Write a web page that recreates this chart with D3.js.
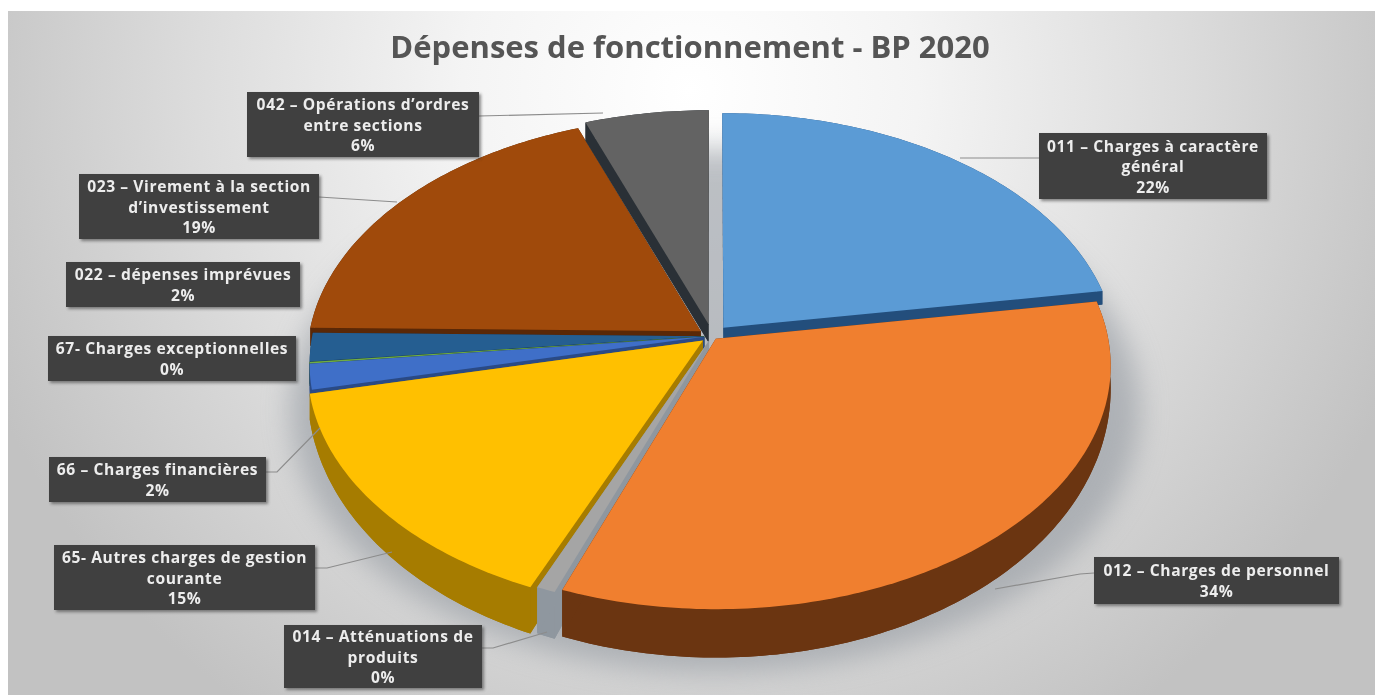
<!DOCTYPE html>
<html lang="fr">
<head>
<meta charset="utf-8">
<script src="https://cdn.jsdelivr.net/npm/d3@7"></script>
<style>
html,body{margin:0;padding:0;background:#fff;overflow:hidden}
svg{display:block}
text{font-family:"Open Sans",sans-serif}
</style>
</head>
<body>
<svg id="chart" width="1375" height="695"></svg>
<script>
// ---- data ----
const chartTitle = "Dépenses de fonctionnement - BP 2020";
const categories = [
  "011 – Charges à caractère général",
  "012 – Charges de personnel",
  "014 – Atténuations de produits",
  "65- Autres charges de gestion courante",
  "66 – Charges financières",
  "67- Charges exceptionnelles",
  "022 – dépenses imprévues",
  "023 – Virement à la section d’investissement",
  "042 – Opérations d’ordres entre sections"
];
const shareValues = [22.6, 33.4, 0.7, 15.2, 1.7, 0.1, 1.9, 19.2, 5.7];
const percentLabels = ["22%", "34%", "0%", "15%", "2%", "0%", "2%", "19%", "6%"];
const labelLines = [
  ["011 – Charges à caractère", "général"],
  ["012 – Charges de personnel"],
  ["014 – Atténuations de", "produits"],
  ["65- Autres charges de gestion", "courante"],
  ["66 – Charges financières"],
  ["67- Charges exceptionnelles"],
  ["022 – dépenses imprévues"],
  ["023 – Virement à la section", "d’investissement"],
  ["042 – Opérations  d’ordres", "entre sections"]
];

// ---- styles / layout ----
const topColors  = ["#5b9bd5","#f07f2f","#a5a5a5","#ffc000","#3f6fc8","#70ad47","#255e91","#a04a0b","#636363"];
const wallColors = ["#234e7c","#6b3511","#8f979f","#a67c00","#2a4a85","#3f6a28","#17395a","#5a2807","#2a3036"];
const explosion  = [0.045, 0.015, 0.02, 0.03, 0.02, 0.02, 0.02, 0.035, 0.05];
const wallFloor  = [12, 12, 12, 12, 12, 12, 12, 12, 18];
const drawOrder  = [7, 8, 0, 6, 5, 4, 3, 2, 1];
const labelBoxes = [
  [1039,133,228,66],[1094,557,245,47],[284,625,198,63],
  [54,545,261,65],[49,457,217,45],[48,336,248,45],
  [66,262,234,45],[79,174,240,65],[247,92,232,65]
];
const leaderLines = [
  [[1039,158],[960,158]],
  [[1094,573],[1080,574],[995,589]],
  [[482,648],[493,648],[547,632]],
  [[315,568],[327,568],[392,552]],
  [[266,472],[277,472],[320,428]],
  [],
  [],
  [[319,197],[397,202]],
  [[479,116],[603,113]]
];
const cx = 712, cy = 336, R = 392, S = 240, persp = 0.11;

const svg = d3.select("#chart");
const defs = svg.append("defs");
const bg = defs.append("radialGradient").attr("id","bg")
  .attr("gradientUnits","userSpaceOnUse")
  .attr("cx",690).attr("cy",90).attr("r",760);
[[0,"#ffffff"],[0.3,"#f4f4f4"],[0.65,"#dcdcdc"],[1,"#c2c2c2"]].forEach(s=>
  bg.append("stop").attr("offset",s[0]).attr("stop-color",s[1]));
const blur = (id,sd)=>defs.append("filter").attr("id",id)
  .attr("x","-20%").attr("y","-20%").attr("width","140%").attr("height","140%")
  .append("feGaussianBlur").attr("stdDeviation",sd);
blur("shadowBlur",14); blur("boxBlur",1.6); blur("soft",0.45);

svg.append("rect").attr("x",8).attr("y",11).attr("width",1367).attr("height",684).attr("fill","url(#bg)");

// soft shadow below the pie
svg.append("ellipse").attr("cx",715).attr("cy",410).attr("rx",425).attr("ry",262)
  .attr("fill","#8f959d").attr("opacity",0.58).attr("filter","url(#shadowBlur)");

// ---- geometry: d3.pie gives the angles, a perspective projection the screen points ----
const arcsData = d3.pie().sort(null).value(d=>d)(shareValues);
const line = d3.line();
function project(X, Y, d, lower) {
  const e = explosion[d.index], mid = (d.startAngle + d.endAngle) / 2;
  const PX = X + e * Math.sin(mid), PY = Y - e * Math.cos(mid);
  const k = 1 / (1 - persp * PY);
  const depth = lower ? Math.max(wallFloor[d.index], 19 + 29 * PY) : 0;
  return [cx + PX * R * k, cy + PY * S * k + depth];
}
function rimPoints(d, lower) {
  const n = Math.max(2, Math.ceil((d.endAngle - d.startAngle) * 60));
  return d3.range(n + 1).map(i => {
    const a = d.startAngle + (d.endAngle - d.startAngle) * i / n;
    return project(Math.sin(a), -Math.cos(a), d, lower);
  });
}
function facePath(d, lower) {
  return line([project(0,0,d,lower), ...rimPoints(d,lower)]) + "Z";
}
function cutPath(d, angle) {
  const X = Math.sin(angle), Y = -Math.cos(angle);
  return line([project(0,0,d,false), project(X,Y,d,false), project(X,Y,d,true), project(0,0,d,true)]) + "Z";
}
function outerPath(d) {
  return line([...rimPoints(d,false), ...rimPoints(d,true).reverse()]) + "Z";
}

const slices = svg.append("g").selectAll("g")
  .data(drawOrder.map(i => arcsData[i]))
  .join("g");
slices.append("path").attr("d", d => facePath(d,true)).attr("fill", d => wallColors[d.index]);
slices.append("path").attr("d", d => outerPath(d)).attr("fill", d => wallColors[d.index]);
slices.append("path").attr("d", d => cutPath(d,d.startAngle)).attr("fill", d => wallColors[d.index]);
slices.append("path").attr("d", d => cutPath(d,d.endAngle)).attr("fill", d => wallColors[d.index]);
slices.append("path").attr("d", d => facePath(d,false)).attr("fill", d => topColors[d.index]);

// ---- leader lines ----
svg.append("g").selectAll("path").data(leaderLines.filter(l=>l.length)).join("path")
  .attr("d", d => line(d)).attr("fill","none").attr("stroke","#8c8c8c").attr("stroke-width",1.2);

// ---- data labels ----
const labels = svg.append("g").selectAll("g").data(categories).join("g");
labels.append("rect")
  .attr("x",(d,i)=>labelBoxes[i][0]+2).attr("y",(d,i)=>labelBoxes[i][1]+2)
  .attr("width",(d,i)=>labelBoxes[i][2]).attr("height",(d,i)=>labelBoxes[i][3])
  .attr("fill","#333").attr("opacity",0.55).attr("filter","url(#boxBlur)");
labels.append("rect")
  .attr("x",(d,i)=>labelBoxes[i][0]).attr("y",(d,i)=>labelBoxes[i][1])
  .attr("width",(d,i)=>labelBoxes[i][2]).attr("height",(d,i)=>labelBoxes[i][3])
  .attr("fill","#404040");
labels.each(function(d,i){
  const b = labelBoxes[i];
  const rows = [...labelLines[i], percentLabels[i]];
  const top = b[1] + b[3]/2 - (rows.length*20.6)/2;
  d3.select(this).selectAll("text").data(rows).join("text")
    .attr("x", b[0]+b[2]/2).attr("y",(r,j)=>top + 16.4 + j*20.6)
    .attr("text-anchor","middle").attr("fill","#ededed")
    .attr("font-size",15.6).attr("font-weight",700).attr("letter-spacing",0.6)
    .attr("filter","url(#soft)").text(r=>r);
});

// ---- title ----
svg.append("text").attr("x",690).attr("y",58).attr("text-anchor","middle")
  .attr("fill","#555").attr("font-size",31).attr("font-weight",700)
  .attr("filter","url(#soft)").text(chartTitle);
</script>
</body>
</html>
